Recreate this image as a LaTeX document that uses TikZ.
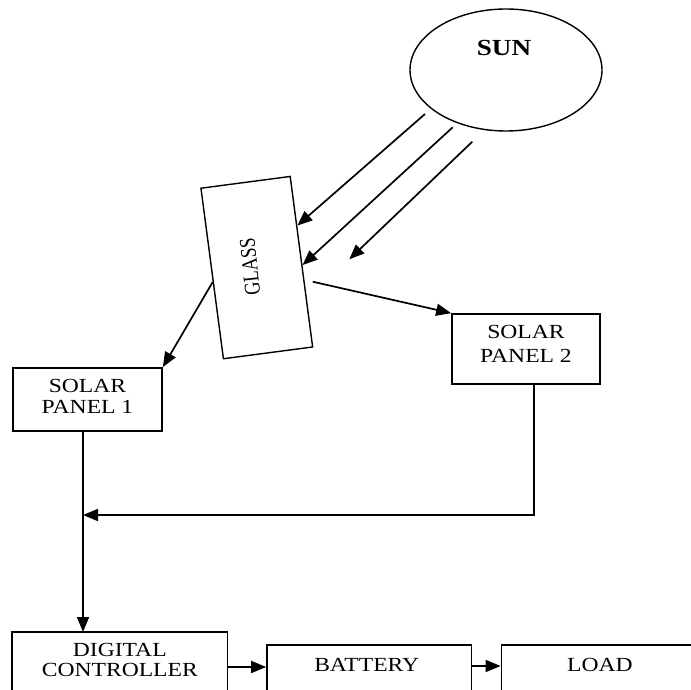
\documentclass[tikz,border=0pt]{standalone}
\usepackage{fontspec}
\usepackage{graphicx}
\setmainfont{Liberation Serif}
\newfontfamily\wideserif[FakeStretch=1.18]{Liberation Serif}
\usetikzlibrary{arrows.meta,calc,shapes.geometric}
\begin{document}
\begin{tikzpicture}[x=1pt,y=1pt,
  line width=1.7pt,
  arr/.style={-{Triangle[length=15pt,width=12pt]}},
  blockbox/.style={draw, rectangle, inner sep=0pt},
  txt/.style={align=center, inner sep=0pt, font=\wideserif\fontsize{20}{21}\selectfont}]
\useasboundingbox (0,0) rectangle (691,689);
\clip (0,0) rectangle (691,689);
% sun
\node[draw, ellipse, line width=1.4pt, minimum width=192pt, minimum height=122pt, inner sep=0pt] (sun) at (506,619) {};
\node[font=\wideserif\bfseries\fontsize{23}{26}\selectfont, inner sep=0pt] (suntxt) at (504,641) {SUN};
% glass
\node[draw, rectangle, line width=1.4pt, rotate=7.5, minimum width=90pt, minimum height=172pt, inner sep=0pt] (glass) at (256.8,421.4) {};
\node[rotate=96, inner sep=0pt, font=\fontsize{18}{20}\selectfont] (glasstxt) at (250,422) {\scalebox{1}[1.25]{GLASS}};
% panels
\node[blockbox, minimum width=149pt, minimum height=63pt] (p1) at (87.5,289.5) {};
\node[txt] (p1t) at (87.5,292.2) {SOLAR\\PANEL 1};
\node[blockbox, minimum width=148pt, minimum height=70pt] (p2) at (526,340) {};
\node[txt, font=\wideserif\fontsize{20}{24}\selectfont] (p2t) at (526,345.2) {SOLAR\\PANEL 2};
% bottom boxes
\node[blockbox, minimum width=215.5pt, minimum height=67pt] (dc) at (119.8,23.5) {};
\node[txt, font=\wideserif\fontsize{20}{20}\selectfont] (dct) at (119.8,29.5) {DIGITAL\\CONTROLLER};
\node[blockbox, minimum width=204.5pt, minimum height=54pt] (bat) at (369.25,17) {};
\node[txt] (batt) at (366.7,24.5) {BATTERY};
\node[blockbox, minimum width=197pt, minimum height=54pt] (load) at (600,17) {};
\node[txt] (loadt) at (600,24.5) {LOAD};
% ray coordinates
\coordinate (r1s) at (425,575);
\coordinate (r2s) at (452.7,561.7);
\coordinate (r3s) at (472.3,547.3);
\coordinate (r3e) at (349.3,429.7);
\coordinate (g2s) at (312.7,407.3);
\coordinate (p1b) at (83,258);
\coordinate (p2b) at (534,305);
\coordinate (j2) at (534,174);
\coordinate (j1) at (83,174);
\coordinate (dctop) at (83,57);
% rays
\draw[arr] (r1s) -- ($(glass.north east)!0.29!(glass.south east)$);
\draw[arr] (r2s) -- ($(glass.north east)!0.52!(glass.south east)$);
\draw[arr] (r3s) -- (r3e);
% glass outputs
\draw[arr] ($(glass.north west)!0.55!(glass.south west)$) -- (p1.north east);
\draw[arr] (g2s) -- (p2.north west);
% combine
\draw (p1b) -- (j1);
\draw[arr] (j1) -- (dctop);
\draw[arr] (p2b) -- (j2) -- (j1);
% bottom chain
\draw[arr] (dc.east |- 0,22) -- (bat.west |- 0,22);
\draw[arr] (bat.east |- 0,23) -- (load.west |- 0,23);
\end{tikzpicture}
\end{document}
